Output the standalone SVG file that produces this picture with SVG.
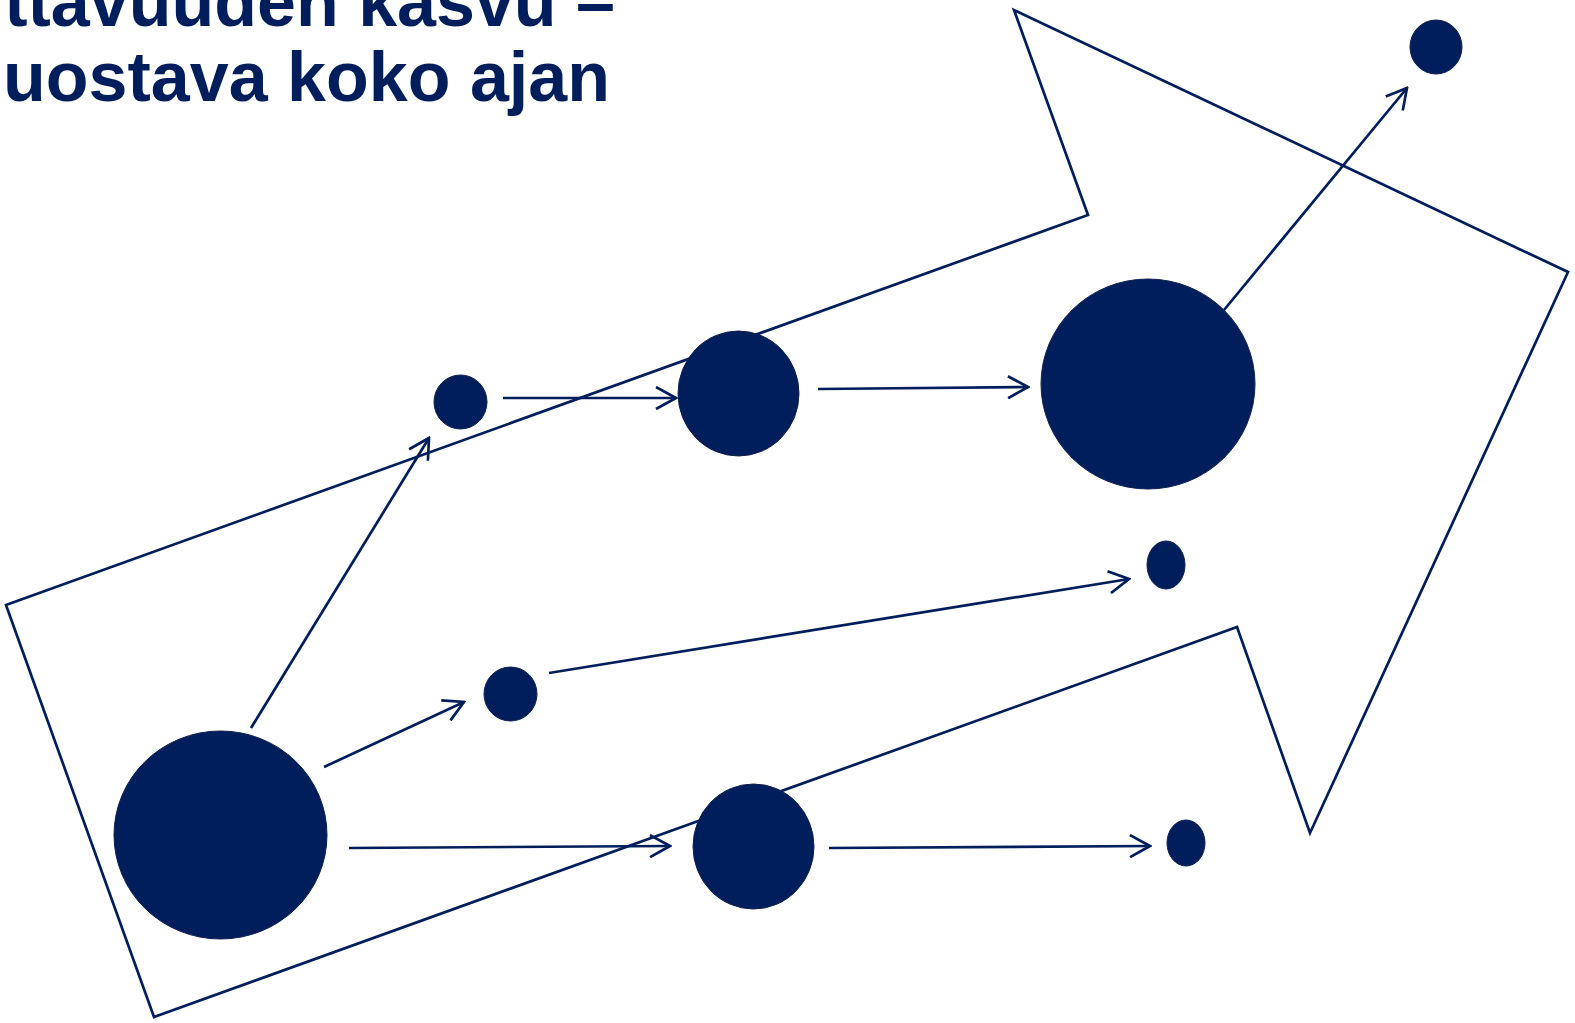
<svg xmlns="http://www.w3.org/2000/svg" width="1575" height="1023" viewBox="0 0 1575 1023">
<style>
.t{font-family:"Liberation Sans",Arial,sans-serif;font-weight:bold;font-size:70px;fill:#001E5C}
.n{fill:#001E5C;stroke:#0F1F50;stroke-width:1}
.c{stroke:#001E5C;stroke-width:2.7;fill:none;marker-end:url(#ah)}
.o{stroke:#001E5C;stroke-width:2.7;fill:none}
</style>
<defs>
<marker id="ah" viewBox="0 0 24 24" refX="22" refY="12" markerWidth="24" markerHeight="24" markerUnits="userSpaceOnUse" orient="auto">
<path d="M2,1 L22,12 L2,23" fill="none" stroke="#001E5C" stroke-width="2.7"/>
</marker>
</defs>
<rect width="1575" height="1023" fill="#fff"/>
<g id="title">
<text class="t" x="615" y="26" text-anchor="end">ttavuuden kasvu –</text>
<text class="t" x="610" y="101" text-anchor="end">uostava koko ajan</text>
</g>
<g id="big-arrow">
<polygon class="o" points="6,605 1088,215 1014,10 1568,272 1310,833 1237,627 154,1017"/>
</g>
<g id="connectors">
<line class="c" x1="251" y1="728" x2="429" y2="438"/>
<line class="c" x1="503" y1="398" x2="676" y2="398"/>
<line class="c" x1="818" y1="389" x2="1028" y2="387"/>
<line class="c" x1="1224" y1="310" x2="1407" y2="88"/>
<line class="c" x1="324" y1="767" x2="464" y2="702"/>
<line class="c" x1="549" y1="673" x2="1129" y2="579"/>
<line class="c" x1="349" y1="848" x2="670" y2="846"/>
<line class="c" x1="829" y1="848" x2="1150" y2="846"/>
</g>
<g id="node1"><ellipse class="n" cx="220.5" cy="835" rx="106.5" ry="104"/></g>
<g id="node2"><ellipse class="n" cx="460.5" cy="402" rx="26.5" ry="27"/></g>
<g id="node3"><ellipse class="n" cx="738.5" cy="393.5" rx="60.5" ry="62.5"/></g>
<g id="node4"><ellipse class="n" cx="1148" cy="384" rx="107" ry="105"/></g>
<g id="node5"><ellipse class="n" cx="1436" cy="47" rx="26" ry="27"/></g>
<g id="node6"><ellipse class="n" cx="510.5" cy="694" rx="26.5" ry="27"/></g>
<g id="node7"><ellipse class="n" cx="1166" cy="565" rx="19" ry="24"/></g>
<g id="node8"><ellipse class="n" cx="753.5" cy="846.5" rx="60.5" ry="62.5"/></g>
<g id="node9"><ellipse class="n" cx="1186" cy="843" rx="19" ry="23"/></g>
</svg>
